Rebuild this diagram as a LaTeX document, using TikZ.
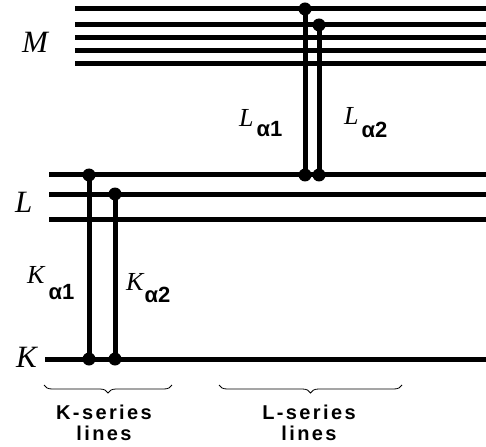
\documentclass[tikz,border=0pt]{standalone}
\usepackage{fontspec}
\setmainfont{Liberation Serif}
\setsansfont{Liberation Sans}
\usetikzlibrary{decorations.pathreplacing}
\newcommand{\subtxt}[2]{\raisebox{-#1pt}{\fontsize{22}{23}\selectfont\upshape\sffamily\bfseries #2}}
\begin{document}
\begin{tikzpicture}[x=1pt,y=-1pt,
  level/.style={line width=5pt},
  trans/.style={line width=5pt},
  dot/.style={circle,fill=black,inner sep=0pt,minimum size=13pt},
  lvl/.style={font=\fontsize{31}{33}\selectfont\itshape, inner sep=0pt, anchor=base west},
  sym/.style={font=\fontsize{26}{28}\selectfont\itshape, inner sep=0pt, anchor=base west},
  brc/.style={decorate,decoration={brace,mirror,amplitude=8pt},line width=0.8pt},
  series/.style={font=\fontsize{20}{21}\selectfont\sffamily\bfseries\addfontfeatures{LetterSpace=12}, align=center, inner sep=0pt, anchor=base}
]
\useasboundingbox (0,0) rectangle (486,446);
% levels
\foreach \n/\y in {1/9,2/25,3/38,4/51,5/64}{
  \coordinate (Mw\n) at (75,\y);
  \coordinate (Me\n) at (486,\y);
  \draw[level] (Mw\n) -- (Me\n);
}
\foreach \n/\y in {1/175,2/194,3/219}{
  \coordinate (Lw\n) at (49,\y);
  \coordinate (Le\n) at (486,\y);
  \draw[level] (Lw\n) -- (Le\n);
}
\coordinate (Kw) at (45,359);
\coordinate (Ke) at (486,359);
\draw[level] (Kw) -- (Ke);
% transition end points
\node[dot] (la1t) at (305,9) {};
\node[dot] (la1b) at (305,175) {};
\node[dot] (la2t) at (319,25) {};
\node[dot] (la2b) at (319,175) {};
\node[dot] (ka1t) at (89,175) {};
\node[dot] (ka1b) at (89,359) {};
\node[dot] (ka2t) at (115,194) {};
\node[dot] (ka2b) at (115,359) {};
\draw[trans] (la1t.center) -- (la1b.center);
\draw[trans] (la2t.center) -- (la2b.center);
\draw[trans] (ka1t.center) -- (ka1b.center);
\draw[trans] (ka2t.center) -- (ka2b.center);
% level labels
\node[lvl] (labM) at (22,53) {M};
\node[lvl] (labL) at (15,212) {L};
\node[lvl] (labK) at (16,367) {K};
% transition labels
\node[sym] (tka1) at (27,283) {K\hspace{4pt}\subtxt{16}{α1}};
\node[sym] (tka2) at (126,290) {K\hspace{1pt}\subtxt{12}{α2}};
\node[sym] (tla1) at (239,127) {L\hspace{3pt}\subtxt{10}{α1}};
\node[sym] (tla2) at (344,125) {L\hspace{3pt}\subtxt{13}{α2}};
% braces
\coordinate (kbl) at (44,385);
\coordinate (kbr) at (172,385);
\coordinate (lbl) at (219,385);
\coordinate (lbr) at (402,385);
\draw[brc] (kbl) -- (kbr);
\draw[brc] (lbl) -- (lbr);
\node[series] (kser) at (104,440) {K-series\\lines};
\node[series] (lser) at (309,440) {L-series\\lines};
\end{tikzpicture}
\end{document}
